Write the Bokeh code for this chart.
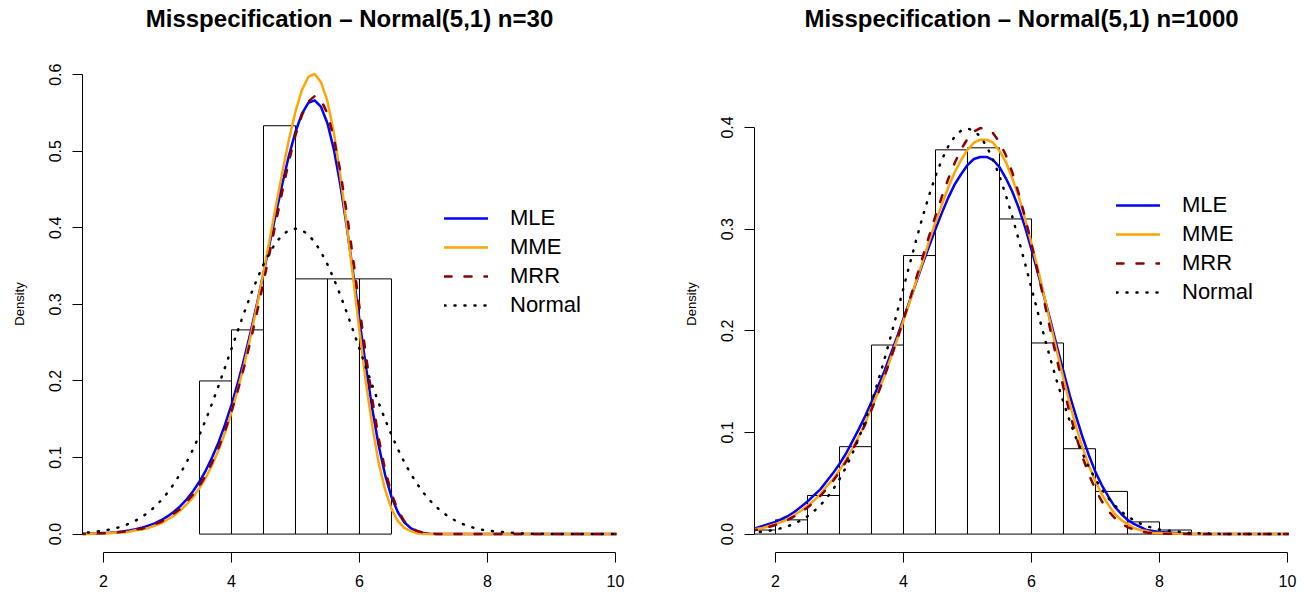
from bokeh.plotting import figure
from bokeh.layouts import row
from bokeh.models import Range1d, Legend, LegendItem, FixedTicker, PrintfTickFormatter, Title
from bokeh.embed import file_html
from bokeh.resources import INLINE

# ---- data ----
# x positions at which the density curves were read
xs = [1.6, 1.7, 1.8, 1.9, 2.0, 2.1, 2.2, 2.3, 2.4, 2.5,
      2.6, 2.7, 2.8, 2.9, 3.0, 3.1, 3.2, 3.3, 3.4, 3.5,
      3.6, 3.7, 3.8, 3.9, 4.0, 4.1, 4.2, 4.3, 4.4, 4.5,
      4.6, 4.7, 4.8, 4.9, 5.0, 5.1, 5.2, 5.3, 5.4, 5.5,
      5.6, 5.7, 5.8, 5.9, 6.0, 6.1, 6.2, 6.3, 6.4, 6.5,
      6.6, 6.7, 6.8, 6.9, 7.0, 7.1, 7.2, 7.3, 7.4, 7.5,
      7.6, 7.7, 7.8, 7.9, 8.0, 8.5, 9.0, 9.5, 10.0, 10.1]

# densities x 10000
mle30_e4 = [3, 4, 6, 9, 13, 18, 25, 34, 47, 63,
            83, 109, 141, 181, 231, 292, 365, 454, 560, 686,
            833, 1006, 1204, 1432, 1689, 1977, 2296, 2643, 3015, 3406,
            3808, 4209, 4595, 4950, 5254, 5488, 5631, 5665, 5578, 5362,
            5021, 4566, 4021, 3418, 2794, 2187, 1633, 1157, 774, 486,
            285, 155, 77, 35, 15, 5, 2, 1, 0, 0,
            0, 0, 0, 0, 0, 0, 0, 0, 0, 0]
mrr1000_e4 = [31, 42, 55, 71, 90, 114, 142, 176, 215, 261,
              314, 375, 445, 523, 612, 711, 821, 943, 1077, 1222,
              1378, 1547, 1725, 1913, 2110, 2312, 2518, 2726, 2931, 3131,
              3320, 3495, 3651, 3784, 3888, 3959, 3994, 3990, 3944, 3856,
              3727, 3558, 3352, 3116, 2854, 2575, 2286, 1995, 1710, 1438,
              1185, 957, 755, 582, 438, 321, 229, 158, 106, 69,
              44, 27, 16, 9, 5, 0, 0, 0, 0, 0]
normal_e4 = [12, 17, 24, 33, 44, 60, 79, 104, 136, 175,
             224, 283, 355, 440, 540, 656, 790, 940, 1109, 1295,
             1497, 1714, 1942, 2179, 2420, 2661, 2897, 3123, 3332, 3521,
             3683, 3814, 3910, 3970, 3989, 3970, 3910, 3814, 3683, 3521,
             3332, 3123, 2897, 2661, 2420, 2179, 1942, 1714, 1497, 1295,
             1109, 940, 790, 656, 540, 440, 355, 283, 224, 175,
             136, 104, 79, 60, 44, 9, 1, 0, 0, 0]
# densities x 1000
mme30_e3 = [0, 0, 0, 1, 1, 1, 2, 2, 3, 5,
            6, 8, 11, 14, 19, 24, 31, 39, 48, 60,
            74, 91, 110, 133, 159, 189, 222, 259, 299, 342,
            386, 431, 475, 516, 552, 580, 597, 601, 590, 565,
            524, 469, 405, 336, 265, 199, 141, 93, 58, 33,
            17, 8, 4, 1, 0, 0, 0, 0, 0, 0,
            0, 0, 0, 0, 0, 0, 0, 0, 0, 0]
mrr30_e3 = [0, 0, 1, 1, 1, 2, 2, 3, 4, 6,
            7, 10, 13, 16, 21, 27, 33, 42, 52, 63,
            77, 94, 113, 135, 160, 188, 219, 253, 290, 329,
            369, 410, 450, 488, 521, 547, 565, 572, 567, 549,
            517, 474, 420, 360, 296, 234, 176, 125, 84, 53,
            31, 17, 9, 4, 2, 1, 0, 0, 0, 0,
            0, 0, 0, 0, 0, 0, 0, 0, 0, 0]
mle1000_e3 = [5, 6, 8, 10, 12, 15, 18, 22, 27, 32,
              38, 44, 52, 60, 69, 79, 91, 103, 116, 130,
              145, 160, 177, 194, 212, 230, 248, 266, 283, 300,
              316, 331, 344, 354, 363, 369, 371, 371, 368, 361,
              350, 337, 321, 302, 280, 257, 233, 209, 184, 160,
              136, 115, 95, 77, 61, 48, 37, 27, 20, 14,
              10, 7, 4, 3, 2, 0, 0, 0, 0, 0]
mme1000_e3 = [4, 5, 6, 8, 10, 12, 15, 19, 23, 28,
              33, 39, 47, 54, 63, 73, 84, 96, 109, 124,
              139, 155, 173, 191, 210, 229, 249, 268, 288, 307,
              324, 341, 356, 368, 378, 385, 388, 388, 385, 377,
              366, 350, 332, 310, 286, 261, 234, 206, 179, 153,
              128, 105, 85, 67, 52, 39, 29, 20, 14, 10,
              6, 4, 3, 1, 1, 0, 0, 0, 0, 0]

mle30 = [v / 1e4 for v in mle30_e4]
mme30 = [v / 1e3 for v in mme30_e3]
mrr30 = [v / 1e3 for v in mrr30_e3]
mle1000 = [v / 1e3 for v in mle1000_e3]
mme1000 = [v / 1e3 for v in mme1000_e3]
mrr1000 = [v / 1e4 for v in mrr1000_e4]
normal = [v / 1e4 for v in normal_e4]

# histograms (bin edges and densities)
edges30 = [3.5, 4.0, 4.5, 5.0, 5.5, 6.0, 6.5]
dens30 = [0.2, 0.2667, 0.5333, 0.3333, 0.3333, 0.3333]
edges1000 = [1.5, 2.0, 2.5, 3.0, 3.5, 4.0, 4.5, 5.0, 5.5, 6.0, 6.5, 7.0, 7.5, 8.0, 8.5]
dens1000 = [0.004, 0.014, 0.038, 0.086, 0.186, 0.274, 0.378, 0.38, 0.31, 0.188,
            0.084, 0.042, 0.012, 0.004]

labels = ["MLE", "MME", "MRR", "Normal"]
x_ticks = [2, 4, 6, 8, 10]
y_ticks30 = [0.0, 0.1, 0.2, 0.3, 0.4, 0.5, 0.6]
y_ticks1000 = [0.0, 0.1, 0.2, 0.3, 0.4]
titles = ["Misspecification \u2013 Normal(5,1) n=30", "Misspecification \u2013 Normal(5,1) n=1000"]

FONT = "Liberation Sans"


def panel(title, edges, dens, curves, ymax, yticks, width, br, legloc, title_offset):
    p = figure(width=width, height=594, x_range=Range1d(1.672, 10.016),
               y_range=Range1d(-0.04 * ymax, 1.04 * ymax), output_backend="svg",
               toolbar_location=None, title_location=None, min_border_left=82,
               min_border_right=br, min_border_top=55, min_border_bottom=42)
    p.outline_line_color = None
    p.grid.visible = False
    # spacer (closest to the frame) then the visible title (outermost)
    p.add_layout(Title(text=" ", text_font_size="1px", standoff=20), "above")
    p.add_layout(Title(text=title, text_font=FONT, text_font_size="24px",
                       text_font_style="bold", text_color="black", align="center",
                       offset=title_offset, standoff=2), "above")
    p.quad(left=edges[:-1], right=edges[1:], bottom=0, top=dens, fill_color=None,
           line_color="black", line_width=1)
    rs = []
    for ys, col, dash in curves:
        rs.append(p.line(xs, ys, line_color=col, line_width=2.5, line_dash=dash,
                         line_cap="round", line_join="round"))
    leg = Legend(items=[LegendItem(label=l, renderers=[r]) for l, r in zip(labels, rs)],
                 location=legloc, glyph_width=44, glyph_height=24, label_height=24, spacing=3,
                 padding=0, margin=0, label_standoff=22, border_line_color=None,
                 background_fill_alpha=0, label_text_font=FONT, label_text_font_size="22px",
                 label_text_color="black")
    p.add_layout(leg, "center")
    for ax in (p.xaxis[0], p.yaxis[0]):
        ax.major_tick_out = 10
        ax.major_tick_in = 0
        ax.minor_tick_line_color = None
        ax.major_label_text_font = FONT
        ax.major_label_text_font_size = "16px"
        ax.major_label_text_color = "black"
        ax.axis_line_color = "black"
        ax.major_tick_line_color = "black"
    p.xaxis.ticker = FixedTicker(ticks=x_ticks)
    p.xaxis.bounds = (x_ticks[0], x_ticks[-1])
    p.xaxis.major_label_standoff = 12
    p.yaxis.ticker = FixedTicker(ticks=yticks)
    p.yaxis.bounds = (yticks[0], yticks[-1])
    p.yaxis.formatter = PrintfTickFormatter(format="%.1f")
    p.yaxis.major_label_orientation = "vertical"
    p.yaxis.major_label_standoff = 11
    p.yaxis.axis_label = "Density"
    p.yaxis.axis_label_text_font = FONT
    p.yaxis.axis_label_text_font_size = "13px"
    p.yaxis.axis_label_text_font_style = "normal"
    p.yaxis.axis_label_text_color = "black"
    p.yaxis.axis_label_standoff = 20
    return p


p1 = panel(titles[0], edges30, dens30,
           [(mle30, "blue", "solid"), (mme30, "orange", "solid"),
            (mrr30, "darkred", "7 13"), (normal, "black", "1 9")],
           0.601, y_ticks30, 672, 56, (362, 234), 2)
p2 = panel(titles[1], edges1000, dens1000,
           [(mle1000, "blue", "solid"), (mme1000, "orange", "solid"),
            (mrr1000, "darkred", "7 13"), (normal, "black", "1 9")],
           0.4527, y_ticks1000, 632, 16, (362, 247), 9)

open("out.html", "w").write(file_html(row(p1, p2), INLINE))
